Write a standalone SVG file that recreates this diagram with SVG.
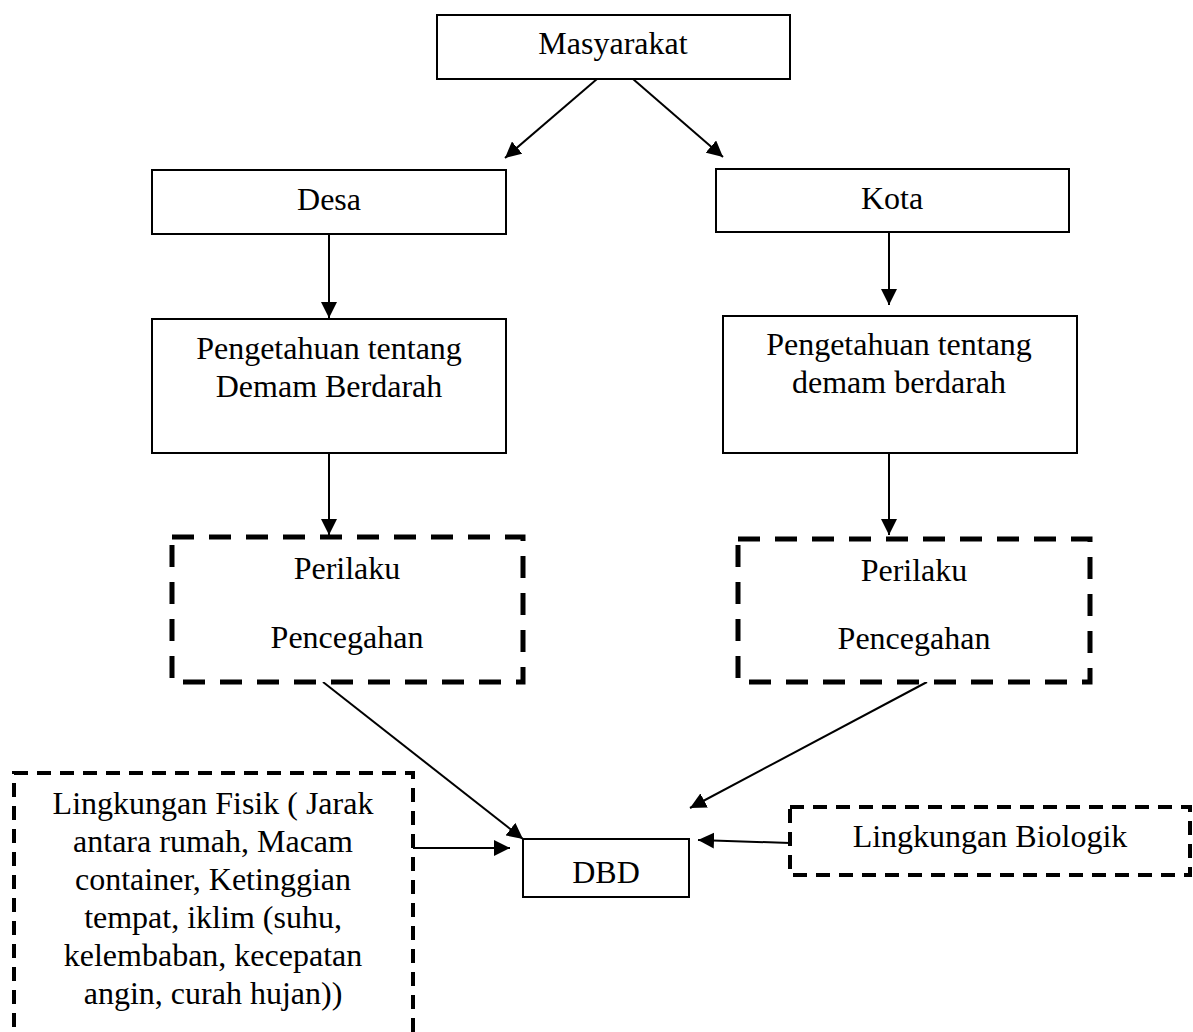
<svg xmlns="http://www.w3.org/2000/svg" width="1193" height="1032" viewBox="0 0 1193 1032">
<style>
text{font-family:"Liberation Serif","Times New Roman",serif;font-size:32px;fill:#000;text-anchor:middle}
.box{fill:#fff;stroke:#000;stroke-width:2}
.dash{fill:#fff;stroke:#000;stroke-width:5;stroke-dasharray:22 15}
.dash2{fill:#fff;stroke:#000;stroke-width:4;stroke-dasharray:14 9}
.con{stroke:#000;stroke-width:2;fill:none;marker-end:url(#ah)}
</style>
<defs>
<marker id="ah" markerUnits="userSpaceOnUse" markerWidth="18" markerHeight="16" refX="16" refY="8" orient="auto">
<path d="M0,0 L16,8 L0,16 Z" fill="#000"/>
</marker>
</defs>
<rect width="1193" height="1032" fill="#fff"/>
<g id="connectors">
<line class="con" x1="597" y1="79" x2="505" y2="158"/>
<line class="con" x1="633" y1="79" x2="723" y2="157"/>
<line class="con" x1="329" y1="234" x2="329" y2="318"/>
<line class="con" x1="889" y1="232" x2="889" y2="305"/>
<line class="con" x1="329" y1="453" x2="329" y2="535"/>
<line class="con" x1="889" y1="451" x2="889" y2="535"/>
<line class="con" x1="323" y1="682" x2="523" y2="839"/>
<line class="con" x1="927" y1="682" x2="690" y2="808"/>
<line class="con" x1="413" y1="848" x2="510" y2="848"/>
<line class="con" x1="790" y1="843" x2="698" y2="840"/>
</g>
<g id="masyarakat"><rect class="box" x="437" y="15" width="353" height="64"/><text x="613" y="54">Masyarakat</text></g>
<g id="desa"><rect class="box" x="152" y="170" width="354" height="64"/><text x="329" y="210">Desa</text></g>
<g id="kota"><rect class="box" x="716" y="169" width="353" height="63"/><text x="892" y="209">Kota</text></g>
<g id="pengetahuan-desa"><rect class="box" x="152" y="319" width="354" height="134"/><text x="329" y="359">Pengetahuan tentang</text><text x="329" y="397">Demam Berdarah</text></g>
<g id="pengetahuan-kota"><rect class="box" x="723" y="316" width="354" height="137"/><text x="899" y="355">Pengetahuan tentang</text><text x="899" y="393">demam berdarah</text></g>
<g id="perilaku-desa"><rect class="dash" x="172" y="537" width="351" height="145"/><text x="347" y="579">Perilaku</text><text x="347" y="648">Pencegahan</text></g>
<g id="perilaku-kota"><rect class="dash" x="738" y="539" width="352" height="143"/><text x="914" y="581">Perilaku</text><text x="914" y="649">Pencegahan</text></g>
<g id="dbd"><rect class="box" x="523" y="839" width="166" height="58"/><text x="606" y="883">DBD</text></g>
<g id="lingkungan-biologik"><rect class="dash2" x="790" y="807" width="400" height="68"/><text x="990" y="847">Lingkungan Biologik</text></g>
<g id="lingkungan-fisik"><rect class="dash2" x="14" y="773" width="399" height="280"/><text x="213" y="814">Lingkungan Fisik ( Jarak</text><text x="213" y="852">antara rumah, Macam</text><text x="213" y="890">container, Ketinggian</text><text x="213" y="928">tempat, iklim (suhu,</text><text x="213" y="966">kelembaban, kecepatan</text><text x="213" y="1004">angin, curah hujan))</text></g>
</svg>
